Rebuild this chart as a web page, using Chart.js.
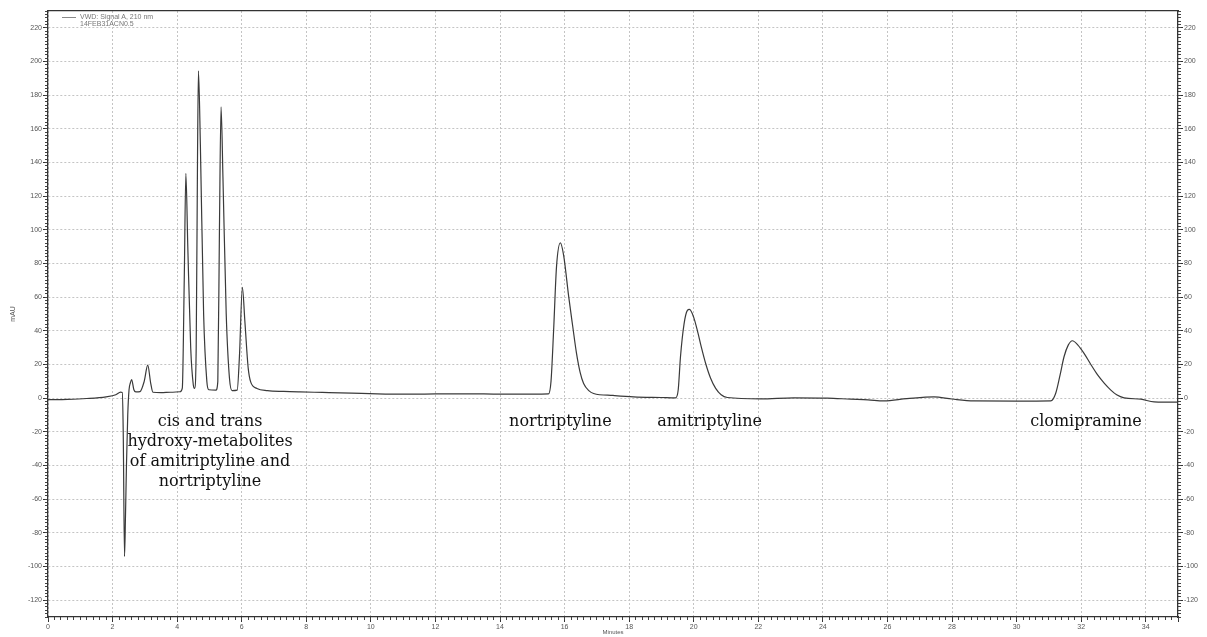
<!DOCTYPE html>
<html>
<head>
<meta charset="utf-8">
<script src="https://cdn.jsdelivr.net/npm/chart.js@4.4.1/dist/chart.umd.min.js"></script>
<style>
  body { margin: 0; background: #fff; }
  #wrap { position: relative; width: 1207px; height: 637px; }
  .peak-label {
    position: absolute;
    font-family: "DejaVu Serif", serif;
    font-size: 16px;
    line-height: 20px;
    color: #111;
    text-align: center;
    white-space: nowrap;
    transform: translateX(-50%);
  }
  #legend {
    position: absolute;
    font-family: "Liberation Sans", Arial, sans-serif;
    font-size: 7px;
    line-height: 7px;
    color: #777;
  }
  #legend .swatch {
    position: absolute; left: 0; top: 4px; width: 14px; height: 1px; background: #888;
  }
  #legend .txt { margin-left: 18px; }
</style>
</head>
<body>
<div id="wrap">
  <canvas id="chrom" width="1207" height="637"></canvas>
  <div id="legend"><span class="swatch"></span><div class="txt">VWD: Signal A, 210 nm<br>14FEB31ACN0.5</div></div>
</div>
<script>
// retention time (min) and detector signal (mAU)
const minutes = [
  0.0, 0.6, 1.2, 1.8, 2.1, 2.25, 2.3, 2.33, 2.37, 2.4, 2.43, 2.47, 2.51, 2.55, 2.59,
  2.66, 2.72, 2.85, 2.98, 3.09, 3.18, 3.25, 3.5, 3.8, 4.09, 4.16, 4.22, 4.27, 4.33,
  4.42, 4.5, 4.54, 4.59, 4.63, 4.66, 4.72, 4.82, 4.92, 4.98, 5.2, 5.26, 5.31, 5.36,
  5.42, 5.52, 5.62, 5.7, 5.86, 5.93, 6.02, 6.1, 6.2, 6.28, 6.47, 6.8, 7.3, 7.8, 8.5,
  9.4, 10.2, 11, 12, 13, 14, 15, 15.5, 15.58, 15.66, 15.75, 15.87, 15.97, 16.13, 16.25,
  16.37, 16.48, 16.59, 16.75, 16.9, 17.5, 18.14, 19, 19.44, 19.52, 19.59, 19.7, 19.8,
  19.87, 20.0, 20.11, 20.24, 20.37, 20.52, 20.68, 20.85, 21.04, 22.07, 23.1, 24.14,
  24.86, 25.4, 25.89, 26.6, 27.44, 28, 28.68, 30, 31.06, 31.21, 31.35, 31.47, 31.6,
  31.73, 31.9, 32.09, 32.3, 32.51, 32.72, 32.92, 33.1, 33.33, 33.85, 34.26, 34.94, 35.0
];
const signal = [
  -0.9, -0.7, -0.2, 0.8, 2.0, 3.6, 3.4, -20, -94, -70, -40, -10, 5, 9, 11.1,
  5, 3.7, 3.9, 10, 19.6, 9, 3.5, 3.3, 3.5, 3.8, 6, 70, 133.6, 90,
  30, 8, 5.8, 30, 140, 194.4, 150, 50, 10, 5, 4.8, 10, 100, 173,
  130, 50, 12, 4.5, 4.8, 25, 65.8, 45, 18, 9.5, 5.8, 4.5, 4.0, 3.7, 3.4,
  3.0, 2.6, 2.4, 2.5, 2.6, 2.4, 2.4, 2.5, 10, 40, 78, 92.3, 85, 60, 43,
  26.6, 15.5, 8.7, 4.5, 2.8, 1.6, 0.8, 0.4, 0.2, 5, 24.6, 44, 52,
  52.7, 48, 40.4, 30, 20.6, 12, 5.8, 2, 0.4, -0.4, 0.2, 0,
  -0.6, -1, -1.6, -0.3, 0.8, -0.5, -1.6, -1.7, -1.6, 2.8, 14, 24.6, 31.5,
  34.1, 31.5, 26.6, 20, 13.8, 8.8, 4.8, 2, 0.2, -0.6, -2.2, -2.4, -2.4
];

// peak labels and where they sit (min, mAU)
const peakNames = [
  ["cis and trans", "hydroxy-metabolites", "of amitriptyline and", "nortriptyline"],
  ["nortriptyline"],
  ["amitriptyline"],
  ["clomipramine"]
];
const peakLabelAt = [5.02, 15.87, 20.49, 32.15];
const peakLabelLevel = [-13.7, -13.7, -13.7, -13.7];

const xMin = 0, xMax = 35;
const yMin = -130, yMax = 230;

const tickFont = { family: "'Liberation Sans', Arial, sans-serif", size: 7 };
const tickColor = "#555";
const gridCol = "#c4c4c4";

// ==============================
// HTML labels placed from the chart scales
// ==============================
const wrap = document.getElementById("wrap");
const labelDivs = peakNames.map(lines => {
  const d = document.createElement("div");
  d.className = "peak-label";
  d.innerHTML = lines.join("<br>");
  wrap.appendChild(d);
  return d;
});

const placeLabels = {
  id: "placeLabels",
  afterDraw(chart) {
    const xs = chart.scales.x, ys = chart.scales.y;
    labelDivs.forEach((d, i) => {
      d.style.left = xs.getPixelForValue(peakLabelAt[i]) + "px";
      d.style.top = (ys.getPixelForValue(peakLabelLevel[i]) - 10) + "px";
    });
    const lg = document.getElementById("legend");
    lg.style.left = (chart.chartArea.left + 14) + "px";
    lg.style.top = (chart.chartArea.top + 2) + "px";
  }
};

const isStep = (v, step) => Math.abs(v % step) < 1e-6;
const majorOnly = step => v => (isStep(v, step) ? v : "");
const gridIf = step => c => (isStep(c.tick.value, step) ? gridCol : "rgba(0,0,0,0)");
const tickIf = step => c => (isStep(c.tick.value, step) ? "#333" : "rgba(0,0,0,0)");

const ctx = document.getElementById("chrom").getContext("2d");
new Chart(ctx, {
  type: "line",
  data: {
    datasets: [{
      label: "VWD: Signal A, 210 nm",
      data: minutes.map((m, i) => ({ x: m, y: signal[i] })),
      borderColor: "#3a3a3a",
      borderWidth: 1.2,
      pointRadius: 0,
      fill: false,
      cubicInterpolationMode: "monotone"
    }]
  },
  options: {
    responsive: false,
    animation: false,
    devicePixelRatio: 1,
    layout: { padding: { top: 11, left: 0, right: 0, bottom: 0 } },
    plugins: { legend: { display: false }, tooltip: { enabled: false } },
    scales: {
      x: {
        type: "linear", position: "bottom", weight: 1, min: xMin, max: xMax,
        ticks: { stepSize: 2, font: tickFont, color: tickColor, padding: 1, maxRotation: 0, autoSkip: false, callback: majorOnly(2) },
        grid: { color: gridIf(2), lineWidth: 1, tickLength: 5, tickColor: "#333" },
        border: { color: "#333", width: 1.3, dash: [2, 2] },
        title: { display: true, text: "Minutes", font: { family: tickFont.family, size: 6 }, color: "#555", padding: { top: 0, bottom: 1 } },
        afterFit: s => { s.height = 20; }
      },
      xMinor: {
        type: "linear", position: "bottom", weight: 0, min: xMin, max: xMax,
        ticks: { display: false, stepSize: 0.2 },
        grid: { drawOnChartArea: false, tickLength: 3, tickColor: "#444" },
        border: { display: false },
        afterFit: s => { s.height = 0; }
      },
      xTop: {
        type: "linear", position: "top", min: xMin, max: xMax,
        ticks: { display: false },
        grid: { display: false },
        border: { color: "#333", width: 1.3 },
        afterFit: s => { s.height = 0; }
      },
      y: {
        type: "linear", position: "left", weight: 1, min: yMin, max: yMax,
        ticks: { stepSize: 10, font: tickFont, color: tickColor, padding: 1, autoSkip: false, callback: majorOnly(20) },
        grid: { color: gridIf(20), lineWidth: 1, tickLength: 5, tickColor: tickIf(20) },
        border: { color: "#333", width: 1.3, dash: [2, 2] },
        title: { display: true, text: "mAU", font: { family: tickFont.family, size: 7 }, color: "#555", padding: { top: 9, bottom: 0 } },
        afterFit: s => { s.width = 48; }
      },
      yMinor: {
        type: "linear", position: "left", weight: 0, min: yMin, max: yMax,
        ticks: { display: false, stepSize: 2 },
        grid: { drawOnChartArea: false, tickLength: 3, tickColor: "#444" },
        border: { display: false },
        afterFit: s => { s.width = 0; }
      },
      yRight: {
        type: "linear", position: "right", weight: 1, min: yMin, max: yMax,
        ticks: { stepSize: 10, font: tickFont, color: tickColor, padding: 1, autoSkip: false, callback: majorOnly(20) },
        grid: { drawOnChartArea: false, tickLength: 5, tickColor: tickIf(20) },
        border: { color: "#333", width: 1.3 },
        afterFit: s => { s.width = 29; }
      },
      yRightMinor: {
        type: "linear", position: "right", weight: 0, min: yMin, max: yMax,
        ticks: { display: false, stepSize: 2 },
        grid: { drawOnChartArea: false, tickLength: 3, tickColor: "#444" },
        border: { display: false },
        afterFit: s => { s.width = 0; }
      }
    }
  },
  plugins: [placeLabels]
});
</script>
</body>
</html>
